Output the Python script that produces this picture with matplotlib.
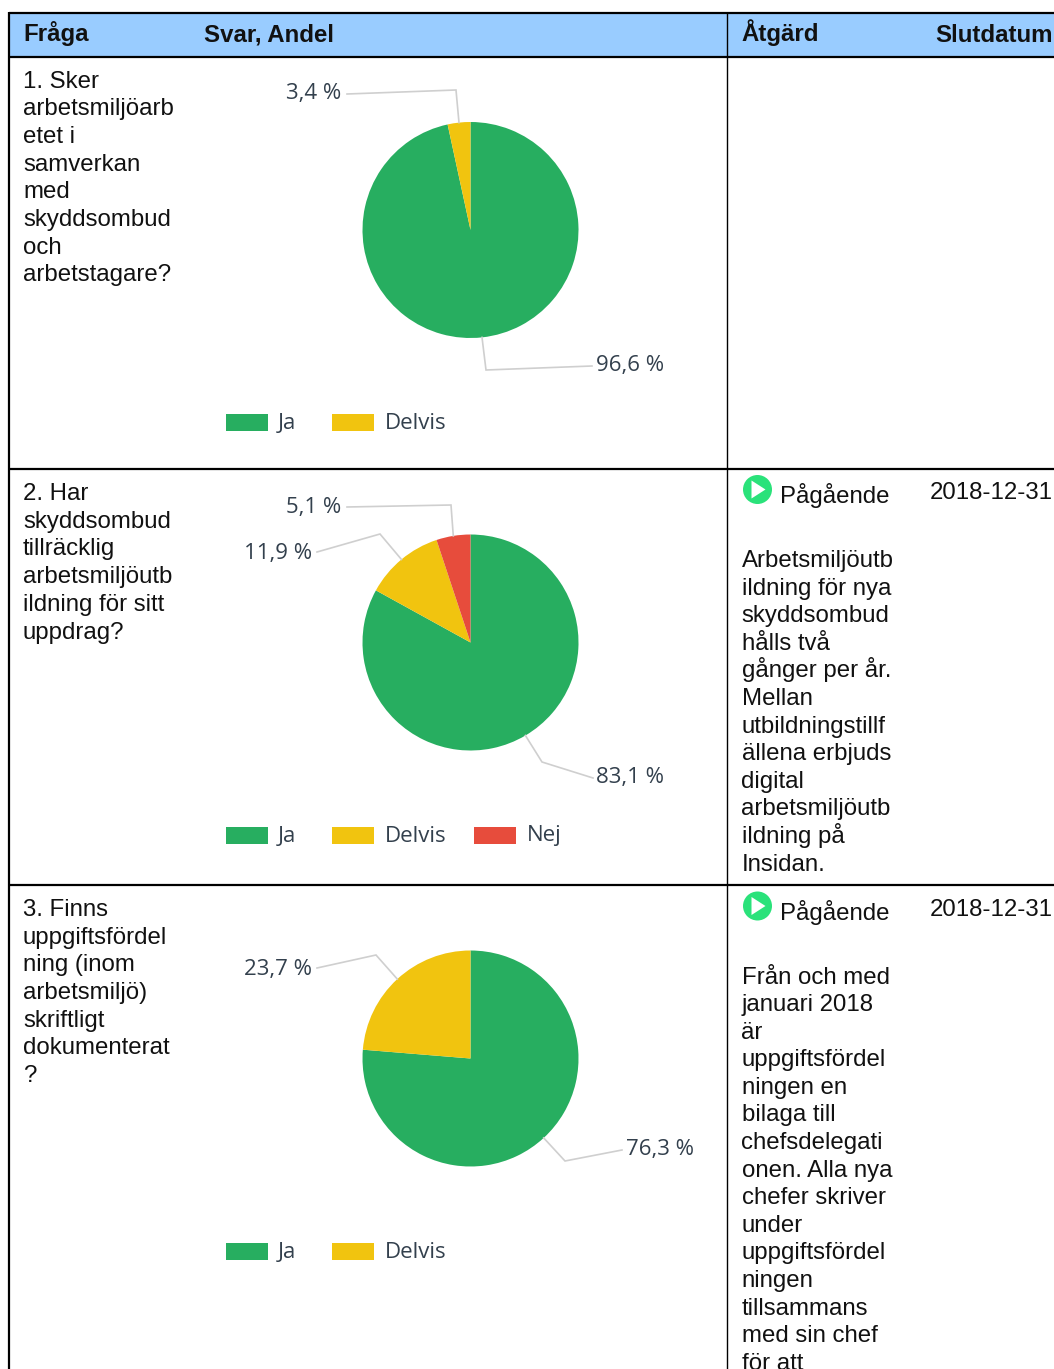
import matplotlib
matplotlib.use("Agg")
import matplotlib.pyplot as plt
import numpy as np
from matplotlib.patches import Circle, Polygon, Rectangle

W, H = 1054, 1369

GREEN, YELLOW, RED = "#27ae60", "#f1c40f", "#e74c3c"

answers = ["Ja", "Delvis", "Nej"]
q1_values = [96.6, 3.4]
q2_values = [83.1, 11.9, 5.1]
q3_values = [76.3, 23.7]

headers = ["Fråga", "Svar, Andel", "Åtgärd", "Slutdatum"]

q1_text = ["1. Sker", "arbetsmiljöarb", "etet i", "samverkan", "med", "skyddsombud", "och", "arbetstagare?"]
q2_text = ["2. Har", "skyddsombud", "tillräcklig", "arbetsmiljöutb", "ildning för sitt", "uppdrag?"]
q3_text = ["3. Finns", "uppgiftsfördel", "ning (inom", "arbetsmiljö)", "skriftligt", "dokumenterat", "?"]

status = "Pågående"
end_date = "2018-12-31"
q2_action = ["Arbetsmiljöutb", "ildning för nya", "skyddsombud", "hålls två", "gånger per år.", "Mellan",
             "utbildningstillf", "ällena erbjuds", "digital", "arbetsmiljöutb", "ildning på", "Insidan."]
q3_action = ["Från och med", "januari 2018", "är", "uppgiftsfördel", "ningen en", "bilaga till", "chefsdelegati",
             "onen. Alla nya", "chefer skriver", "under", "uppgiftsfördel", "ningen", "tillsammans", "med sin chef",
             "för att"]

plt.rcParams["font.family"] = ["Liberation Sans", "DejaVu Sans"]
BODY = 17.25
LABEL = 16
INK = "#33404d"

fig = plt.figure(figsize=(W / 100, H / 100), dpi=100)
ax = fig.add_axes([0, 0, 1, 1])
ax.set_xlim(0, W)
ax.set_ylim(0, H)
ax.axis("off")


def py(y):
    # pixel rows counted from the top of the image
    return H - y


def lines(x, y0, rows, pitch=27.7):
    for i, t in enumerate(rows):
        ax.text(x, py(y0 + i * pitch), t, fontsize=BODY, color="#111111", va="baseline")


def chart(cy, values, labels):
    cx, r = 470.5, 108
    ax.pie(values, colors=[GREEN, YELLOW, RED][:len(values)], startangle=90, counterclock=False,
           center=(cx, py(cy)), radius=r, frame=True, wedgeprops={"linewidth": 0})
    # pie() resets the limits and the aspect
    ax.set_xlim(0, W)
    ax.set_ylim(0, H)
    ax.set_aspect("auto")
    ax.axis("off")

    shares = np.array(values) / sum(values)
    mids = 90 - 360 * (np.cumsum(shares) - shares / 2)
    for mid, val, (elbow, end, tx, ty) in zip(mids, values, labels):
        a = np.deg2rad(mid)
        start = (cx + r * np.cos(a), py(cy) + r * np.sin(a))
        ax.plot([start[0], elbow[0], end[0]], [start[1], py(elbow[1]), py(end[1])],
                color="#cfcfcf", lw=1.2, solid_joinstyle="miter", zorder=1)
        ax.text(tx, py(ty), f"{val:.1f} %".replace(".", ","), fontsize=LABEL, color=INK,
                family=["Open Sans", "DejaVu Sans"], ha="center", va="center")

    n = len(values)
    patch_x = [226, 332, 474]
    text_x = [278, 385, 527]
    ly = cy + 192.5
    for i in range(n):
        ax.add_patch(Rectangle((patch_x[i], py(ly + 8.5)), 42, 17,
                               fc=[GREEN, YELLOW, RED][i], ec="none", zorder=2))
        ax.text(text_x[i], py(ly + 1), answers[i], fontsize=LABEL, color=INK,
                family=["Open Sans", "DejaVu Sans"], va="center")


def play_icon(cx, cy):
    ax.add_patch(Circle((cx, py(cy)), 14.5, fc="#2ae27a", ec="none", zorder=3))
    ax.add_patch(Polygon([(cx - 6, py(cy - 9)), (cx - 6, py(cy + 9)), (cx + 8, py(cy))],
                         fc="white", ec="none", zorder=4))


# header band and grid
ax.add_patch(Rectangle((9, py(57)), W - 9, 45, fc="#99ccff", ec="none", zorder=0))
for y in [12.5, 57, 468.5, 885]:
    ax.plot([9, W], [py(y), py(y)], color="black", lw=1.6, zorder=5, solid_capstyle="butt")
ax.plot([9, 9], [0, py(12)], color="black", lw=1.6, zorder=5, solid_capstyle="butt")
ax.plot([727, 727], [0, py(12)], color="black", lw=1.0, zorder=5, solid_capstyle="butt")

for x, t in zip([23, 204.5, 741.5, 935.5], headers):
    ax.text(x, py(41.5), t, fontsize=BODY, fontweight="bold", color="#111111", va="baseline")

lines(23, 87.5, q1_text)
lines(23, 500, q2_text)
lines(23, 916, q3_text)

chart(230, q1_values, [
    ((486, 370), (592, 366), 630.5, 366),
    ((456, 90), (347, 94), 313.5, 94),
])
chart(642.5, q2_values, [
    ((542, 762), (593, 778), 630.5, 778),
    ((380, 534), (317, 552), 278, 553),
    ((451, 505), (347, 507), 313.5, 507),
])
chart(1058.5, q3_values, [
    ((565, 1161), (622, 1150), 660.5, 1150),
    ((376, 955), (317, 968), 277.5, 969),
])

for top in [0, 416.5]:
    play_icon(757.5, 489.5 + top)
    ax.text(780, py(503.5 + top), status, fontsize=BODY, color="#111111", va="baseline")
    ax.text(930, py(499 + top), end_date, fontsize=BODY, color="#111111", va="baseline")

lines(741.5, 567, q2_action, pitch=27.6)
lines(741.5, 983.5, q3_action, pitch=27.6)

fig.savefig("out.png", dpi=100)
